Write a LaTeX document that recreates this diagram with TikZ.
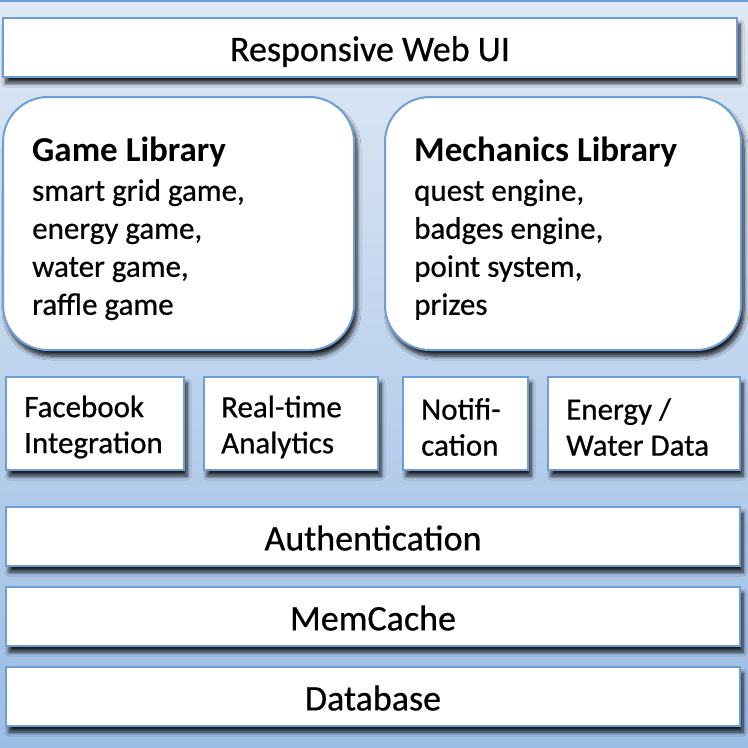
\documentclass[tikz,border=0pt]{standalone}
\usepackage{fontspec}
\setmainfont{Carlito}[UprightFeatures={FakeBold=0.6}]
\usetikzlibrary{shadows.blur}
\definecolor{bgtop}{RGB}{224,233,245}
\definecolor{bgbot}{RGB}{155,188,228}
\definecolor{edge}{RGB}{110,158,214}
\tikzset{
  panel/.style={draw=edge, line width=2pt, fill=white, anchor=north west,
    inner sep=0pt, outer sep=0pt,
    blur shadow={shadow xshift=3pt, shadow yshift=-6pt, shadow blur steps=8,
      shadow blur radius=4pt, shadow opacity=85}},
  layer/.style={panel, minimum width=734pt, minimum height=59pt},
  layertext/.style={inner sep=0pt, font=\fontsize{36}{40}\selectfont},
  lib/.style={panel, rounded corners=45pt, minimum width=351pt, minimum height=253pt},
  libtext/.style={anchor=north west, align=left, inner sep=0pt,
    font=\fontsize{31}{38}\selectfont},
  svc/.style={panel, minimum height=93pt},
  svctext/.style={anchor=west, align=left, inner sep=0pt,
    font=\fontsize{31}{36}\selectfont},
}
\begin{document}
\begin{tikzpicture}[x=1pt,y=-1pt]
  % backdrop
  \useasboundingbox (0,0) rectangle (748,748);
  \shade[top color=bgtop, bottom color=bgbot] (0,0) rectangle (748,748);
  \draw[edge, line width=1.5pt] (0,0.75) -- (748,0.75);

  % presentation layer
  \node[layer] (ui) at (3,18) {};
  \node[layertext] (uitxt) at ([yshift=-4pt]ui.center) {Responsive Web UI};

  % libraries
  \node[lib] (game) at (3,97) {};
  \node[libtext] (gametxt) at (32,137)
    {{\bfseries\fontsize{35}{40}\selectfont Game Library}\\[1pt]
     smart grid game,\\ energy game,\\ water game,\\ raffle game};
  \node[lib, minimum width=356pt] (mech) at (385,97) {};
  \node[libtext] (mechtxt) at (414,137)
    {{\bfseries\fontsize{35}{40}\selectfont Mechanics Library}\\[1pt]
     quest engine,\\ badges engine,\\ point system,\\ prizes};

  % services
  \node[svc, minimum width=178pt] (fb) at (6,377) {};
  \node[svctext] (fbtxt) at (24,427) {Facebook\\Integration};
  \node[svc, minimum width=174pt] (rt) at (204,377) {};
  \node[svctext] (rttxt) at (221,427) {Real-time\\Analytics};
  \node[svc, minimum width=125pt] (nt) at (403,377) {};
  \node[svctext] (nttxt) at (421,427) {Notifi-\\cation};
  \node[svc, minimum width=192pt] (ew) at (548,377) {};
  \node[svctext] (ewtxt) at (566,427) {Energy /\\Water Data};

  % infrastructure layers
  \node[layer] (auth) at (6,507) {};
  \node[layertext] (authtxt) at ([yshift=-1.5pt]auth.center) {Authentication};
  \node[layer] (cache) at (6,587) {};
  \node[layertext] (cachetxt) at ([yshift=-1.5pt]cache.center) {MemCache};
  \node[layer] (db) at (6,667) {};
  \node[layertext] (dbtxt) at ([yshift=-1.5pt]db.center) {Database};
\end{tikzpicture}
\end{document}
